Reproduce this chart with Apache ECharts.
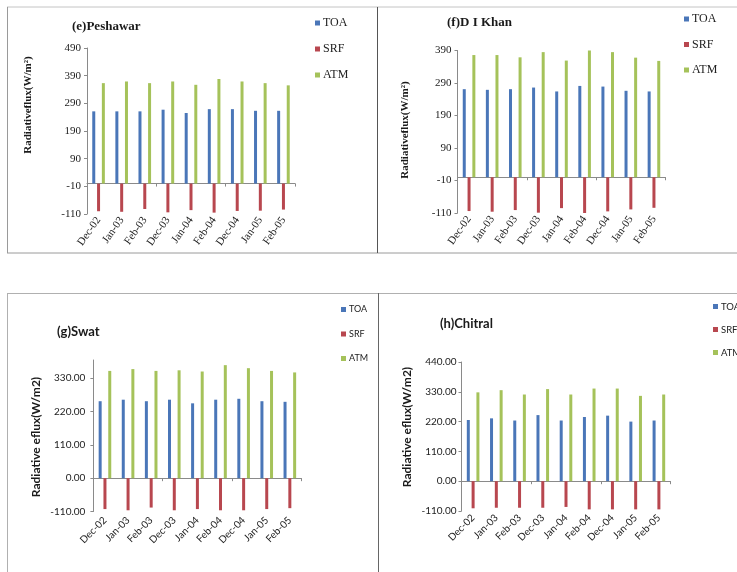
<!DOCTYPE html>
<html>
<head>
<meta charset="utf-8">
<script src="https://cdn.jsdelivr.net/npm/echarts@6/dist/echarts.min.js"></script>
<style>
  html, body { margin: 0; padding: 0; background: #ffffff; }
  #chart { width: 737px; height: 572px; }
</style>
</head>
<body>
<div id="chart"></div>
<script>
// Months shared by all four stations
const categories = ['Dec-02', 'Jan-03', 'Feb-03', 'Dec-03', 'Jan-04', 'Feb-04', 'Dec-04', 'Jan-05', 'Feb-05'];
const seriesNames = ['TOA', 'SRF', 'ATM'];

// Radiative flux (W/m2) per station
const peshawarTOA = [261, 261, 261, 267, 255, 269, 269, 263, 263];
const peshawarSRF = [-100, -102, -92, -104, -96, -105, -99, -98, -94];
const peshawarATM = [363, 369, 363, 369, 357, 378, 369, 363, 355];

const dikhanTOA = [271, 269, 271, 276, 264, 281, 279, 266, 264];
const dikhanSRF = [-104, -106, -101, -109, -95, -110, -105, -99, -94];
const dikhanATM = [376, 376, 369, 385, 359, 394, 385, 368, 358];

const swatTOA = [254, 259, 254, 259, 247, 259, 262, 254, 252];
const swatSRF = [-102, -106, -97, -106, -102, -106, -106, -102, -99];
const swatATM = [354, 360, 354, 356, 352, 373, 363, 354, 349];

const chitralTOA = [226, 232, 224, 244, 224, 237, 242, 220, 224];
const chitralSRF = [-100, -98, -98, -98, -95, -104, -104, -104, -104];
const chitralATM = [328, 336, 320, 340, 320, 342, 342, 315, 320];

// Value-axis tick labels
const ticksPeshawar = [-110, -10, 90, 190, 290, 390, 490];
const ticksDIKhan = [-110, -10, 90, 190, 290, 390];
const ticksSwat = [-110, 0, 110, 220, 330];
const ticksChitral = [-110, 0, 110, 220, 330, 440];

const colors = ['#4A76B8', '#B8474F', '#A5C25A'];
const SERIF = 'Liberation Serif';
const SANS = 'Lato';

const panels = [
  {
    title: '(e)Peshawar', titlePos: { left: 72, top: 20 }, titleFont: SERIF, titleSize: 13,
    yName: 'Radiativeflux(W/m²)', yNamePos: [28, 105], yNameSize: 11,
    values: [peshawarTOA, peshawarSRF, peshawarATM], ticks: ticksPeshawar, min: -110, max: 490, decimals: 0,
    grid: { left: 87, top: 48, width: 208, height: 166 },
    font: SERIF, labelSize: 11, rotate: 55, xMargin: 4, yMargin: 6,
    legend: { left: 315, top: 16, itemGap: 12, fontSize: 12, lineHeight: 14 }
  },
  {
    title: '(f)D I Khan', titlePos: { left: 447, top: 16 }, titleFont: SERIF, titleSize: 13,
    yName: 'Radiativeflux(W/m²)', yNamePos: [405, 130], yNameSize: 11,
    values: [dikhanTOA, dikhanSRF, dikhanATM], ticks: ticksDIKhan, min: -110, max: 390, decimals: 0,
    grid: { left: 457.5, top: 50.5, width: 208, height: 162.5 },
    font: SERIF, labelSize: 11, rotate: 55, xMargin: 4, yMargin: 6,
    legend: { left: 684, top: 12, itemGap: 11.5, fontSize: 12, lineHeight: 14 }
  },
  {
    title: '(g)Swat', titlePos: { left: 57, top: 325 }, titleFont: SANS, titleSize: 13,
    yName: 'Radiative eflux(W/m2)', yNamePos: [36, 437], yNameSize: 12,
    values: [swatTOA, swatSRF, swatATM], ticks: ticksSwat, min: -110, max: 390, decimals: 2,
    grid: { left: 93.4, top: 360, width: 208, height: 151.5 },
    font: SANS, labelSize: 10, rotate: 45, xMargin: 7, yMargin: 8,
    legend: { left: 341, top: 304, itemGap: 13.5, fontSize: 9, lineHeight: 11 }
  },
  {
    title: '(h)Chitral', titlePos: { left: 440, top: 317 }, titleFont: SANS, titleSize: 13,
    yName: 'Radiative eflux(W/m2)', yNamePos: [407, 427], yNameSize: 12,
    values: [chitralTOA, chitralSRF, chitralATM], ticks: ticksChitral, min: -110, max: 440, decimals: 2,
    grid: { left: 461.5, top: 362, width: 209, height: 149 },
    font: SANS, labelSize: 10, rotate: 45, xMargin: 5, yMargin: 5,
    legend: { left: 713, top: 301, itemGap: 12, fontSize: 9.5, lineHeight: 11 }
  }
];

const axisGrey = '#8a8a8a';
const option = {
  animation: false,
  backgroundColor: '#ffffff',
  color: colors,
  title: [], legend: [], grid: [], xAxis: [], yAxis: [], series: [], graphic: []
};

panels.forEach((p, k) => {
  option.title.push({
    text: p.title, left: p.titlePos.left, top: p.titlePos.top, padding: 0,
    textStyle: { fontFamily: p.titleFont, fontSize: p.titleSize, fontWeight: 'bold', color: '#1a1a1a' }
  });
  option.legend.push({
    data: seriesNames, orient: 'vertical', left: p.legend.left, top: p.legend.top, padding: 0,
    itemGap: p.legend.itemGap, itemWidth: 5, itemHeight: 5, icon: 'rect',
    textStyle: { fontFamily: p.font, fontSize: p.legend.fontSize, lineHeight: p.legend.lineHeight, color: '#222', padding: [0, 0, 0, -2] }
  });
  option.grid.push(Object.assign({ containLabel: false }, p.grid));

  // Zero line with tick marks between months
  option.xAxis.push({
    type: 'category', gridIndex: k, data: categories, position: 'bottom',
    axisLine: { show: true, onZero: true, lineStyle: { color: axisGrey, width: 1 } },
    axisTick: { show: true, length: 3, lineStyle: { color: axisGrey } },
    axisLabel: { show: false }, splitLine: { show: false }
  });
  // Month labels along the bottom edge of the plot
  option.xAxis.push({
    type: 'category', gridIndex: k, data: categories, position: 'bottom',
    axisLine: { show: false, onZero: false }, axisTick: { show: false },
    axisLabel: { show: true, rotate: p.rotate, margin: p.xMargin, interval: 0,
      fontFamily: p.font, fontSize: p.labelSize, color: '#222' },
    splitLine: { show: false }
  });
  option.yAxis.push({
    type: 'value', gridIndex: k, min: p.min, max: p.max,
    axisLine: { show: true, lineStyle: { color: axisGrey, width: 1 } },
    axisTick: { show: true, length: 3, customValues: p.ticks, lineStyle: { color: axisGrey } },
    axisLabel: { show: true, customValues: p.ticks, margin: p.yMargin,
      fontFamily: p.font, fontSize: p.labelSize, color: '#222',
      formatter: v => Number(v).toFixed(p.decimals) },
    splitLine: { show: false }
  });
  seriesNames.forEach((name, i) => {
    option.series.push({
      type: 'bar', name: name, xAxisIndex: 2 * k, yAxisIndex: k,
      data: p.values[i], barWidth: 3, barGap: '60%',
      itemStyle: { color: colors[i] }
    });
  });
  option.graphic.push({
    type: 'text', x: p.yNamePos[0], y: p.yNamePos[1], rotation: Math.PI / 2,
    style: {
      text: p.yName, fill: '#1a1a1a',
      font: 'bold ' + p.yNameSize + 'px "' + p.font + '"',
      textAlign: 'center', textVerticalAlign: 'middle', align: 'center', verticalAlign: 'middle'
    }
  });
});

// Panel frames
const frames = [
  { x1: 7, y1: 7, x2: 737, y2: 7, c: '#c4c4c4' },
  { x1: 7, y1: 253, x2: 737, y2: 253, c: '#9a9a9a' },
  { x1: 7.5, y1: 7, x2: 7.5, y2: 253, c: '#9a9a9a' },
  { x1: 377.5, y1: 7, x2: 377.5, y2: 253, c: '#555555' },
  { x1: 7, y1: 293.5, x2: 737, y2: 293.5, c: '#b0b0b0' },
  { x1: 7.5, y1: 293, x2: 7.5, y2: 572, c: '#b0b0b0' },
  { x1: 378.5, y1: 293, x2: 378.5, y2: 572, c: '#666666' }
];
frames.forEach(f => {
  option.graphic.push({
    type: 'line', silent: true,
    shape: { x1: f.x1, y1: f.y1, x2: f.x2, y2: f.y2 },
    style: { stroke: f.c, lineWidth: 1 }
  });
});

const chart = echarts.init(document.getElementById('chart'), null, { renderer: 'canvas' });
chart.setOption(option);
</script>
</body>
</html>
